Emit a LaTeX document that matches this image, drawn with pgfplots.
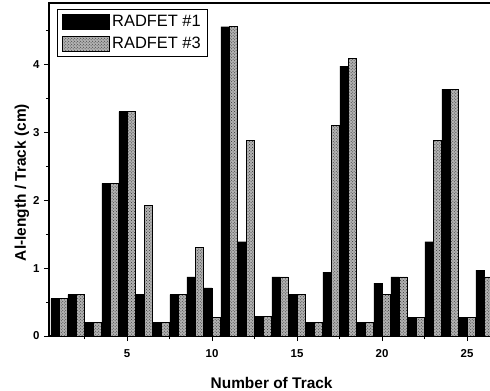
\documentclass[border=0pt]{standalone}
\usepackage{pgfplots}
\pgfplotsset{compat=1.18}
\usepackage{fontspec}
\setmainfont{Liberation Sans}
\usetikzlibrary{patterns}
\pgfplotstableread{
x a b
1 0.55 0.55
2 0.61 0.61
3 0.20 0.20
4 2.25 2.25
5 3.31 3.31
6 0.61 1.92
7 0.20 0.20
8 0.61 0.61
9 0.87 1.31
10 0.71 0.28
11 4.56 4.56
12 1.39 2.88
13 0.285 0.285
14 0.87 0.87
15 0.61 0.61
16 0.20 0.20
17 0.94 3.10
18 3.98 4.09
19 0.20 0.20
20 0.78 0.61
21 0.87 0.87
22 0.28 0.28
23 1.39 2.88
24 3.64 3.64
25 0.28 0.28
26 0.97 0.87
}\datatable
\begin{document}
\begin{tikzpicture}
\begin{axis}[
  at={(0,0)}, anchor=south west,
  scale only axis,
  width=445.2bp, height=333bp,
  xmin=0.41, xmax=26.6,
  ymin=0, ymax=4.91,
  xtick={5,10,15,20,25},
  minor xtick={2.5,7.5,12.5,17.5,22.5},
  ytick={0,1,2,3,4},
  minor ytick={0.5,1.5,2.5,3.5,4.5},
  tick align=outside,
  xtick pos=left, ytick pos=left,
  major tick length=5bp, minor tick length=3bp,
  axis line style={line width=1.1bp},
  every tick/.style={line width=0.9bp, black},
  /pgf/number format/assume math mode=true,
  ticklabel style={font=\bfseries\fontsize{11.5}{13}\selectfont},
  xticklabel style={yshift=-5bp},
  yticklabel style={xshift=-1bp},
  xlabel={\bfseries Number of Track},
  ylabel={\bfseries Al-length / Track (cm)},
  label style={font=\bfseries\fontsize{15.5}{18}\selectfont},
  xlabel style={yshift=-13bp},
  ylabel style={yshift=-3bp, xshift=-13bp},
  ybar, bar width=0.47,
  legend cell align=left,
  legend style={at={(0,1)}, anchor=north west, xshift=8bp, yshift=-6bp,
    draw=black, line width=0.8bp, font=\fontsize{16.5}{19}\selectfont,
    inner xsep=5bp, inner ysep=4bp, row sep=5bp},
  legend image code/.code={\draw[#1] (0bp,-7.5bp) rectangle (47bp,7.5bp);},
]
\addplot[bar shift=-0.245, fill=black, draw=black] table[x=x, y=a] {\datatable};
\addlegendentry{RADFET \#1\hspace{9bp}}
\addplot[bar shift=0.245, draw=black, line width=0.8bp, fill=gray!60,
  postaction={pattern=crosshatch dots, pattern color=black!80}] table[x=x, y=b] {\datatable};
\addlegendentry{RADFET \#3\hspace{9bp}}
\end{axis}
\pgfresetboundingbox
\useasboundingbox (-49bp,-55bp) rectangle (441bp,336bp);
\end{tikzpicture}
\end{document}
